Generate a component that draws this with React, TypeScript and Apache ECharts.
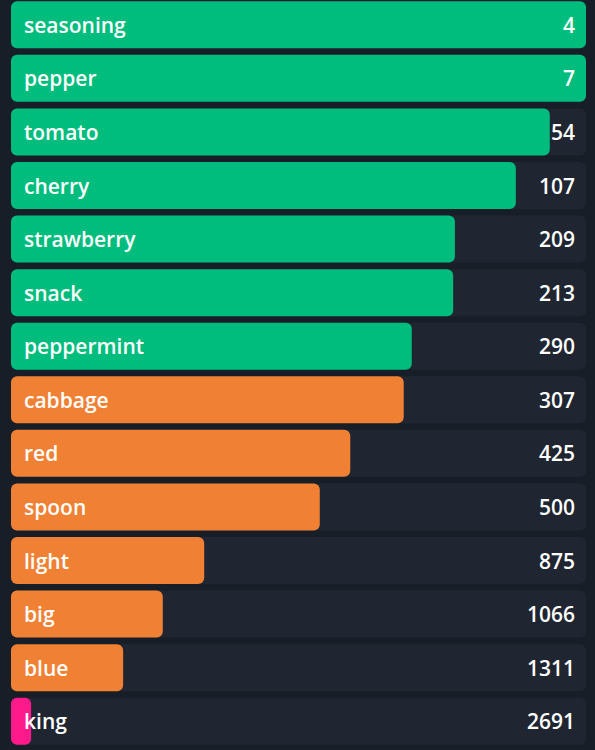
import React, { useEffect, useRef } from "react";
import * as echarts from "echarts";

// Categories top to bottom
const categories = [
  "seasoning", "pepper", "tomato", "cherry", "strawberry", "snack", "peppermint",
  "cabbage", "red", "spoon", "light", "big", "blue", "king",
];
// Counts shown at the right of each row
const counts = [4, 7, 54, 107, 209, 213, 290, 307, 425, 500, 875, 1066, 1311, 2691];
// Bar fill (percent of the track)
const fill = [100, 100, 93.7, 87.8, 77.2, 76.9, 69.7, 68.3, 59.0, 53.7, 33.6, 26.4, 19.5, 3.5];
// Tier of each row (drives colour)
const tiers = [
  "high", "high", "high", "high", "high", "high", "high",
  "mid", "mid", "mid", "mid", "mid", "mid", "low",
];

const tierColors: Record<string, string> = {
  high: "#00bc7d",
  mid: "#f08033",
  low: "#ff1a8c",
};

export default function App() {
  const ref = useRef<HTMLDivElement>(null);
  useEffect(() => {
    document.body.style.margin = "0";
    document.body.style.background = "#181e28";
    document.body.style.overflow = "hidden";
    const chart = echarts.init(ref.current!, undefined, { renderer: "svg" });
    const font = "'Open Sans', 'Noto Sans', sans-serif";
    chart.setOption({
      animation: false,
      backgroundColor: "#181e28",
      grid: { left: 11, right: 9, top: 0, bottom: 2, containLabel: false },
      xAxis: {
        type: "value",
        min: 0,
        max: 100,
        show: false,
      },
      yAxis: [
        {
          type: "category",
          data: categories,
          inverse: true,
          z: 10,
          axisLine: { show: false },
          axisTick: { show: false },
          splitLine: { show: false },
          axisLabel: {
            inside: true,
            margin: 13,
            color: "#ffffff",
            fontSize: 21,
            fontWeight: 600,
            fontFamily: font,
            align: "left",
          },
        },
        {
          type: "category",
          data: counts.map(String),
          inverse: true,
          position: "right",
          z: 10,
          axisLine: { show: false },
          axisTick: { show: false },
          splitLine: { show: false },
          axisLabel: {
            inside: true,
            margin: 11,
            color: "#ffffff",
            fontSize: 21,
            fontWeight: 600,
            fontFamily: font,
            align: "right",
          },
        },
      ],
      series: [
        {
          type: "bar",
          yAxisIndex: 0,
          barWidth: 47,
          showBackground: true,
          backgroundStyle: { color: "#202631", borderRadius: 6 },
          data: fill.map((v, i) => ({
            value: v,
            itemStyle: { color: tierColors[tiers[i]], borderRadius: 6 },
          })),
        },
      ],
    });
    return () => chart.dispose();
  }, []);
  return (
    <div
      ref={ref}
      style={{ position: "fixed", left: 0, top: -2, width: 595, height: 752 }}
    />
  );
}
